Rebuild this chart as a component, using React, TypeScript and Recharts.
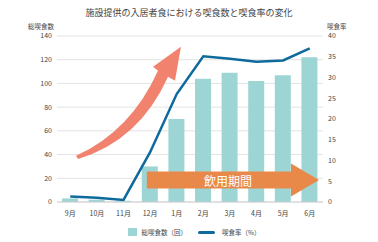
import { ComposedChart, Bar, Line, XAxis, YAxis, CartesianGrid, ReferenceArea } from 'recharts'

const months = ['9月', '10月', '11月', '12月', '1月', '2月', '3月', '4月', '5月', '6月']
const mealCounts = [3, 2, 1, 30, 70, 104, 109, 102, 107, 122]
const eatingRate = [1.3, 1.0, 0.5, 12, 26, 35.1, 34.5, 33.8, 34.1, 37]
const leftTicks = [0, 20, 40, 60, 80, 100, 120, 140]
const rightTicks = [0, 5, 10, 15, 20, 25, 30, 35, 40]

const data = months.map((m, i) => ({ month: m, meals: mealCounts[i], rate: eatingRate[i] }))

const FONT = '"Noto Sans CJK JP", "Noto Sans", sans-serif'
const BAR = '#9dd5d5'
const LINE = '#0e6a9c'

// curved "rising" arrow, drawn in fractions of its reference box
function CurvedArrow(props: any) {
  const { x, y, width, height } = props
  const p = (u: number, v: number) => `${x + u * width},${y + v * height}`
  const d = [
    `M${p(0.143, 0.99)}`,
    `Q${p(0.556, 0.764)} ${p(0.759, 0.218)}`,
    `L${p(0.722, 0.182)}`,
    `L${p(0.932, 0)}`,
    `L${p(0.887, 0.309)}`,
    `L${p(0.835, 0.273)}`,
    `Q${p(0.617, 0.855)} ${p(0.158, 1.018)}`,
    'Z',
  ].join(' ')
  return <path d={d} fill="#f0826e" />
}

function PeriodArrow(props: any) {
  const { x, y, width, height } = props
  const start = x + 10
  const tip = x + width - 4
  const headBase = tip - 28
  const mid = y + height / 2
  const bodyTop = mid - 8.5
  const bodyBottom = mid + 8.5
  const d = `M${start},${bodyTop} L${headBase},${bodyTop} L${headBase},${y} L${tip},${mid} L${headBase},${y + height} L${headBase},${bodyBottom} L${start},${bodyBottom} Z`
  return (
    <g>
      <path d={d} fill="#e8894a" />
      <text x={x + width * 0.49} y={mid} fill="#fff" fontSize={12} fontFamily={FONT} textAnchor="middle" dominantBaseline="central">
        飲用期間
      </text>
    </g>
  )
}

export default function App() {
  return (
    <div style={{ position: 'absolute', left: 0, top: 0, width: 378, height: 242, fontFamily: FONT, background: '#fff' }}>
      <div style={{ position: 'absolute', top: 6, left: 0, width: 378, textAlign: 'center', fontSize: 9, color: '#444' }}>
        施設提供の入居者食における喫食数と喫食率の変化
      </div>
      <div style={{ position: 'absolute', top: 21, left: 28, fontSize: 6.5, color: '#444' }}>総喫食数</div>
      <div style={{ position: 'absolute', top: 21, left: 327, fontSize: 6.5, color: '#444' }}>喫食率</div>
      <ComposedChart width={378} height={242} data={data} margin={{ top: 36, right: 0, bottom: 20, left: 0 }}>
        <CartesianGrid vertical={false} stroke="#e3e3e3" yAxisId="left" />
        <XAxis
          dataKey="month"
          tickLine={false}
          tickSize={0}
          axisLine={{ stroke: '#cfcfcf' }}
          tick={{ fontSize: 7, fill: '#444', fontFamily: FONT }}
          tickMargin={9}
          height={20}
          interval={0}
        />
        <YAxis
          yAxisId="left"
          domain={[0, 140]}
          ticks={leftTicks}
          width={57}
          axisLine={false}
          tickLine={false}
          tickSize={0}
          tickMargin={5}
          tick={{ fontSize: 7, fill: '#444', fontFamily: FONT }}
        />
        <YAxis
          yAxisId="right"
          orientation="right"
          domain={[0, 40]}
          ticks={rightTicks}
          width={55}
          axisLine={false}
          tickLine={false}
          tickSize={0}
          tickMargin={5}
          tick={{ fontSize: 7, fill: '#444', fontFamily: FONT }}
        />
        <Bar yAxisId="left" dataKey="meals" fill={BAR} barSize={16} isAnimationActive={false} />
        <ReferenceArea yAxisId="left" x1="9月" x2="1月" y1={38} y2={131} shape={CurvedArrow} ifOverflow="visible" zIndex={350} />
        <ReferenceArea yAxisId="right" x1="12月" x2="6月" y1={1.3} y2={9.3} shape={PeriodArrow} ifOverflow="visible" zIndex={350} />
        <Line
          yAxisId="right"
          dataKey="rate"
          stroke={LINE}
          strokeWidth={2.5}
          dot={false}
          type="linear"
          isAnimationActive={false}
        />
      </ComposedChart>
      <div style={{ position: 'absolute', top: 227, left: 128, height: 10, display: 'flex', alignItems: 'center', fontSize: 6.5, lineHeight: '10px', color: '#444' }}>
        <span style={{ display: 'inline-block', width: 8.5, height: 8.5, background: BAR, marginRight: 5 }} />
        <span>総喫食数（回）</span>
        <span style={{ display: 'inline-block', width: 17, height: 3, borderRadius: 2, background: LINE, marginLeft: 11, marginRight: 7 }} />
        <span>喫食率（%）</span>
      </div>
    </div>
  )
}
